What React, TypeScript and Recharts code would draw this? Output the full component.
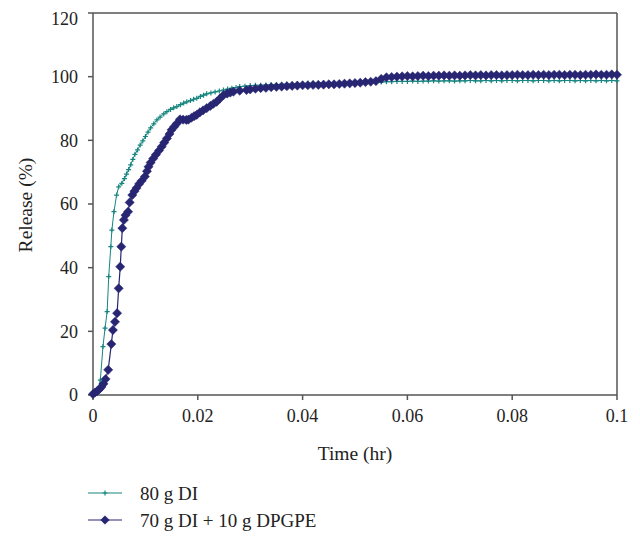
import React from "react";
import { LineChart, Line, XAxis, YAxis, ReferenceLine } from "recharts";

const TEAL = "#16857f";
const NAVY = "#282672";
const FONT = "'Liberation Serif', 'DejaVu Serif', serif";

// 80 g DI
const diTime = [
  0, 0.0005, 0.001, 0.0014, 0.0019, 0.0023, 0.0027, 0.003, 0.0034, 0.0036,
  0.004, 0.0045, 0.0049, 0.0055, 0.006, 0.0064, 0.0068, 0.0072, 0.0076, 0.008,
  0.0085, 0.009, 0.0095, 0.01, 0.0105, 0.011, 0.0116, 0.0122, 0.0128, 0.0135,
  0.0141, 0.0148, 0.0154, 0.016, 0.0167, 0.0173, 0.0179, 0.0186, 0.0192, 0.0198,
  0.0205, 0.0211, 0.0217, 0.0225, 0.0233, 0.0241, 0.0249, 0.0257, 0.0265, 0.0273,
  0.028, 0.029, 0.03, 0.031, 0.032, 0.033, 0.034, 0.035, 0.036, 0.037,
  0.038, 0.039, 0.04, 0.041, 0.042, 0.043, 0.044, 0.045, 0.046, 0.047,
  0.048, 0.049, 0.05, 0.051, 0.052, 0.053, 0.054, 0.055, 0.056, 0.057,
  0.058, 0.059, 0.06, 0.061, 0.062, 0.063, 0.064, 0.065, 0.066, 0.067,
  0.068, 0.069, 0.07, 0.071, 0.072, 0.073, 0.074, 0.075, 0.076, 0.077,
  0.078, 0.079, 0.08, 0.081, 0.082, 0.083, 0.084, 0.085, 0.086, 0.087,
  0.088, 0.089, 0.09, 0.091, 0.092, 0.093, 0.094, 0.095, 0.096, 0.097,
  0.098, 0.099, 0.1,
];
const diRelease = [
  0.5, 1, 2, 4.7, 15.2, 21, 26.2, 37.2, 46.6, 51.8,
  57.6, 62.8, 65.4, 66.5, 68, 69.4, 70.8, 72.3, 74, 75.6,
  77, 78.5, 79.8, 81.2, 82.6, 83.9, 85.2, 86.4, 87.3, 88.3,
  89, 89.7, 90.2, 90.6, 91.2, 91.7, 92.1, 92.5, 92.9, 93.2,
  93.8, 94.2, 94.6, 94.9, 95.2, 95.5, 95.8, 96.1, 96.4, 96.6,
  96.9, 97, 97.2, 97.3, 97.3, 97.4, 97.5, 97.5, 97.6, 97.6,
  97.7, 97.8, 97.8, 97.9, 97.9, 98, 98, 98, 98.1, 98.1,
  98.1, 98.2, 98.2, 98.2, 98.3, 98.3, 98.3, 98.3, 98.4, 98.4,
  98.5, 98.5, 98.5, 98.6, 98.5, 98.6, 98.6, 98.7, 98.6, 98.7,
  98.7, 98.6, 98.7, 98.7, 98.8, 98.7, 98.7, 98.8, 98.7, 98.8,
  98.7, 98.8, 98.8, 98.7, 98.8, 98.8, 98.7, 98.8, 98.8, 98.7,
  98.8, 98.7, 98.8, 98.8, 98.7, 98.8, 98.7, 98.8, 98.7, 98.8,
  98.7, 98.8, 98.7,
];

// 70 g DI + 10 g DPGPE
const dpTime = [
  0, 0.0004, 0.0008, 0.0012, 0.0016, 0.002, 0.0024, 0.0029, 0.0035, 0.0038,
  0.0042, 0.0046, 0.0049, 0.0052, 0.0054, 0.0056, 0.0059, 0.0062, 0.0067, 0.007,
  0.0075, 0.0079, 0.0083, 0.0088, 0.0093, 0.0099, 0.0103, 0.0106, 0.011, 0.0115,
  0.012, 0.0126, 0.0131, 0.0136, 0.0141, 0.0146, 0.015, 0.0155, 0.016, 0.0166,
  0.0172, 0.0178, 0.0182, 0.0188, 0.0193, 0.0198, 0.0204, 0.021, 0.0217, 0.0224,
  0.023, 0.0236, 0.0242, 0.0249, 0.0256, 0.0262, 0.0268, 0.028, 0.0293, 0.03,
  0.031, 0.032, 0.033, 0.034, 0.035, 0.036, 0.037, 0.038, 0.039, 0.04,
  0.041, 0.042, 0.043, 0.044, 0.045, 0.046, 0.047, 0.048, 0.049, 0.05,
  0.051, 0.052, 0.053, 0.054, 0.055, 0.056, 0.057, 0.058, 0.059, 0.06,
  0.061, 0.062, 0.063, 0.064, 0.065, 0.066, 0.067, 0.068, 0.069, 0.07,
  0.071, 0.072, 0.073, 0.074, 0.075, 0.076, 0.077, 0.078, 0.079, 0.08,
  0.081, 0.082, 0.083, 0.084, 0.085, 0.086, 0.087, 0.088, 0.089, 0.09,
  0.091, 0.092, 0.093, 0.094, 0.095, 0.096, 0.097, 0.098, 0.099, 0.1,
];
const dpRelease = [
  0.3, 0.8, 1.2, 1.8, 2.5, 3.5, 5, 7.9, 16, 20.4,
  23, 25.7, 33.5, 40.3, 46.6, 52.4, 55, 56.5, 57.6, 60.5,
  62.8, 64, 65, 66.3, 67.3, 68.6, 70.3, 71.7, 73, 74.3,
  75.5, 76.8, 78, 79.3, 80.6, 82, 83.3, 84.3, 85.3, 86.6,
  86.5, 86.4, 86.5, 87.1, 87.6, 88, 88.8, 89.4, 90.1, 90.8,
  91.5, 92.1, 93.1, 94.2, 94.7, 95, 95.3, 95.6, 95.8, 96,
  96.2, 96.4, 96.5, 96.7, 96.8, 96.9, 97, 97.1, 97.2, 97.3,
  97.3, 97.4, 97.4, 97.5, 97.6, 97.6, 97.7, 97.8, 97.9, 98,
  98.1, 98.3, 98.4, 98.6, 99.3, 99.8, 99.9, 100, 100.1, 100.2,
  100.1, 100.2, 100.3, 100.2, 100.3, 100.3, 100.4, 100.3, 100.4, 100.3,
  100.4, 100.5, 100.4, 100.5, 100.4, 100.5, 100.5, 100.4, 100.5, 100.5,
  100.6, 100.5, 100.5, 100.6, 100.5, 100.6, 100.5, 100.6, 100.6, 100.5,
  100.6, 100.6, 100.5, 100.6, 100.6, 100.7, 100.6, 100.6, 100.7, 100.6,
];

const xTicks = [0, 0.02, 0.04, 0.06, 0.08, 0.1];
const yTicks = [0, 20, 40, 60, 80, 100, 120];

const diData = diTime.map((t, i) => ({ t, v: diRelease[i] }));
const dpData = dpTime.map((t, i) => ({ t, v: dpRelease[i] }));

const plus = (cx: number, cy: number, s = 2.5) =>
  `M${cx - s},${cy}H${cx + s}M${cx},${cy - s}V${cy + s}`;
const diamond = (cx: number, cy: number, s = 4.6) =>
  `M${cx},${cy - s}L${cx + s},${cy}L${cx},${cy + s}L${cx - s},${cy}Z`;

const PlusDot = (p: any) => (
  <path key={`p${p.index}`} d={plus(p.cx, p.cy)} stroke={TEAL} strokeWidth={1.2} fill="none" />
);
const DiamondDot = (p: any) => (
  <path key={`d${p.index}`} d={diamond(p.cx, p.cy)} fill={NAVY} stroke={NAVY} strokeWidth={0.5} />
);

const tickStyle = { fontFamily: FONT, fontSize: 18, fill: "#222" };
const titleStyle = { fontFamily: FONT, fontSize: 19.5, fill: "#222" };
const legendStyle = { fontFamily: FONT, fontSize: 19, fill: "#222" };

export default function App() {
  return (
    <div style={{ position: "relative", width: 624, height: 525 }}>
      <LineChart
        width={624}
        height={460}
        margin={{ top: 5, right: 15, left: 17, bottom: 13 }}
      >
        <XAxis
          type="number"
          dataKey="t"
          domain={[0, 0.1]}
          ticks={xTicks}
          allowDuplicatedCategory={false}
          height={60}
          tickSize={5}
          tickMargin={9}
          stroke="#555"
          strokeWidth={1.5}
          tick={tickStyle}
        />
        <YAxis
          type="number"
          domain={[0, 120]}
          ticks={yTicks}
          width={68}
          tickSize={5}
          tickMargin={10}
          stroke="#555"
          strokeWidth={1.5}
          tick={tickStyle}
        />
        <ReferenceLine y={120} stroke="#555" strokeWidth={1.5} />
        <ReferenceLine x={0.1} stroke="#555" strokeWidth={1.5} />
        <Line
          data={diData}
          dataKey="v"
          stroke={TEAL}
          strokeWidth={1}
          dot={PlusDot}
          activeDot={false}
          isAnimationActive={false}
        />
        <Line
          data={dpData}
          dataKey="v"
          stroke={NAVY}
          strokeWidth={1.2}
          dot={DiamondDot}
          activeDot={false}
          isAnimationActive={false}
        />
      </LineChart>
      <svg
        width={624}
        height={525}
        style={{ position: "absolute", left: 0, top: 0, pointerEvents: "none" }}
      >
        <text
          x={17}
          y={197}
          transform="rotate(-90 17 197)"
          textAnchor="middle"
          dominantBaseline="central"
          style={titleStyle}
        >
          Release (%)
        </text>
        <text x={347} y={445} textAnchor="middle" dominantBaseline="central" style={titleStyle}>
          Time (hr)
        </text>
        <line x1={80} x2={114} y1={485} y2={485} stroke={TEAL} strokeWidth={1.2} />
        <path d={plus(97, 485)} stroke={TEAL} strokeWidth={1.2} />
        <text x={132} y={485} dominantBaseline="central" style={legendStyle}>
          80 g DI
        </text>
        <line x1={80} x2={114} y1={512} y2={512} stroke={NAVY} strokeWidth={1.2} />
        <path d={diamond(97, 512)} fill={NAVY} />
        <text x={132} y={512} dominantBaseline="central" style={legendStyle}>
          70 g DI + 10 g DPGPE
        </text>
      </svg>
    </div>
  );
}
